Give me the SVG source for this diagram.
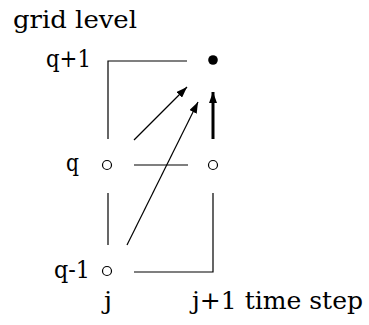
<svg xmlns="http://www.w3.org/2000/svg" width="369" height="325" viewBox="0 0 369 325">
<style>
.ln{stroke:#000;stroke-width:1.2;fill:none}
.thick{stroke:#000;stroke-width:3;fill:none}
.open{fill:#fff;stroke:#000;stroke-width:1.2}
.t{font-family:"DejaVu Serif","Liberation Serif",serif;font-size:24px;fill:#000}
</style>
<defs>
<marker id="ah" markerUnits="userSpaceOnUse" markerWidth="11" markerHeight="8" refX="11" refY="4" orient="auto">
<path d="M0,0 L11,4 L0,8 z" fill="#000"/>
</marker>
</defs>
<g id="labels">
<text class="t" x="13" y="28" textLength="124" lengthAdjust="spacingAndGlyphs">grid level</text>
<text class="t" x="46" y="67" textLength="45" lengthAdjust="spacingAndGlyphs">q+1</text>
<text class="t" x="66" y="171" textLength="13" lengthAdjust="spacingAndGlyphs">q</text>
<text class="t" x="54" y="278" textLength="36" lengthAdjust="spacingAndGlyphs">q-1</text>
<text class="t" x="104" y="309" textLength="8" lengthAdjust="spacingAndGlyphs">j</text>
<text class="t" x="192" y="309" textLength="171" lengthAdjust="spacingAndGlyphs">j+1 time step</text>
</g>
<g id="connectors">
<path class="ln" d="M108,139 V61 H187"/>
<line class="ln" x1="134" y1="165" x2="188" y2="165"/>
<line class="ln" x1="108" y1="193" x2="108" y2="245"/>
<path class="ln" d="M213,193 V272 H134"/>
<line class="ln" x1="134" y1="140" x2="187" y2="87" marker-end="url(#ah)"/>
<line class="ln" x1="127" y1="245" x2="198" y2="102" marker-end="url(#ah)"/>
<line class="thick" x1="213" y1="139" x2="213" y2="92" marker-end="url(#ah)"/>
</g>
<g id="node-j1-q1"><circle cx="213" cy="60" r="4.8" fill="#000"/></g>
<g id="node-j-q"><circle class="open" cx="107" cy="165" r="4.5"/></g>
<g id="node-j1-q"><circle class="open" cx="213" cy="165" r="4.5"/></g>
<g id="node-j-qm1"><circle class="open" cx="107" cy="271" r="4.5"/></g>
</svg>
